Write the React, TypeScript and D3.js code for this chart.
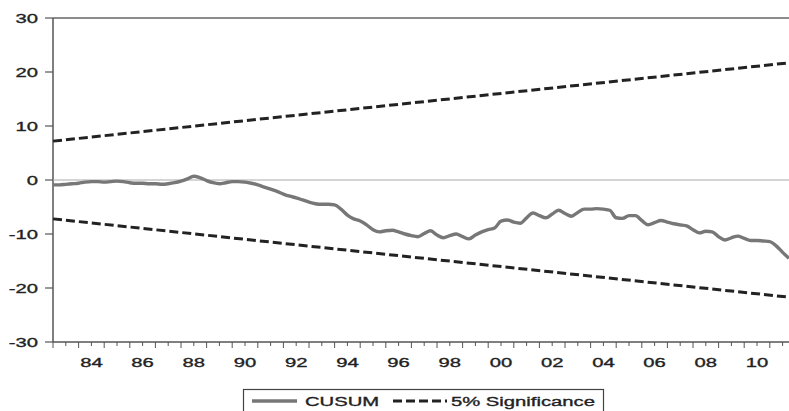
import React from "react"
import * as d3 from "d3"

// quarterly CUSUM, 1983Q1 .. 2011Q4
const startYear = 1983
const cusum = [
  -0.9, -0.9, -0.8, -0.7,
  -0.6, -0.4, -0.3, -0.3,
  -0.4, -0.3, -0.2, -0.3,
  -0.5, -0.6, -0.6, -0.7,
  -0.7, -0.8, -0.7, -0.5,
  -0.2, 0.2, 0.7, 0.4,
  -0.1, -0.5, -0.7, -0.5,
  -0.3, -0.3, -0.4, -0.6,
  -0.9, -1.3, -1.7, -2.1,
  -2.6, -3.0, -3.3, -3.7,
  -4.1, -4.4, -4.5, -4.5,
  -4.6, -5.4, -6.5, -7.2,
  -7.6, -8.3, -9.2, -9.6,
  -9.4, -9.3, -9.6, -10.0,
  -10.3, -10.5, -9.9, -9.4,
  -10.2, -10.7, -10.3, -10.0,
  -10.5, -10.9, -10.2, -9.6,
  -9.2, -8.9, -7.6, -7.4,
  -7.8, -8.0, -7.0, -6.1,
  -6.6, -7.0, -6.3, -5.6,
  -6.2, -6.7, -6.0, -5.4,
  -5.4, -5.3, -5.4, -5.6,
  -7.0, -7.1, -6.6, -6.6,
  -7.5, -8.3, -7.9, -7.5,
  -7.8, -8.1, -8.3, -8.5,
  -9.2, -9.8, -9.5, -9.6,
  -10.5, -11.1, -10.7, -10.4,
  -10.8, -11.2, -11.2, -11.3,
  -11.4, -12.2, -13.4, -14.5,
]

// 5% significance bounds (straight lines, first and last quarter)
const boundDates = [1983.0, 2011.75]
const upperBound = [7.2, 21.7]
const lowerBound = [-7.2, -21.7]

const yTicks = [30, 20, 10, 0, -10, -20, -30]
const xLabels = ["84", "86", "88", "90", "92", "94", "96", "98", "00", "02", "04", "06", "08", "10"]
const xLabelYears = [1984, 1986, 1988, 1990, 1992, 1994, 1996, 1998, 2000, 2002, 2004, 2006, 2008, 2010]

const W = 789
const H = 411
const left = 53
const right = 789
const top = 18
const bottom = 342
const font = "'Liberation Sans', Arial, sans-serif"
const sx = 1.5

const App = () => {
  const x = d3.scaleLinear().domain([1983, 2011.75]).range([left, right])
  const y = d3.scaleLinear().domain([-30, 30]).range([bottom, top])

  const cusumPts = cusum.map((v, i) => [startYear + i * 0.25, v] as [number, number])
  const line = d3.line<[number, number]>().x((d) => x(d[0])).y((d) => y(d[1]))
  const upPts = boundDates.map((d, i) => [d, upperBound[i]] as [number, number])
  const loPts = boundDates.map((d, i) => [d, lowerBound[i]] as [number, number])

  const halfYears = d3.range(1983, 2012.01, 0.5)
  const txt = { fontFamily: font, fontSize: 13.5, fill: "#222", stroke: "#222", strokeWidth: 0.35 }

  return (
    <svg width={W} height={H} style={{ position: "absolute", left: 0, top: 0, background: "#fff" }}>
      {/* frame */}
      <line x1={left} x2={W + 2} y1={top} y2={top} stroke="#666" strokeWidth={1.5} />
      <line x1={left} x2={left} y1={top} y2={bottom} stroke="#555" strokeWidth={1.5} />
      <line x1={left} x2={W + 2} y1={bottom} y2={bottom} stroke="#555" strokeWidth={1.5} />
      {/* zero line */}
      <line x1={left} x2={W + 2} y1={y(0)} y2={y(0)} stroke="#aaa" strokeWidth={1} />

      {/* y axis */}
      {yTicks.map((t) => (
        <g key={t}>
          <line x1={left - 8} x2={left} y1={y(t)} y2={y(t)} stroke="#555" strokeWidth={1.2} />
          <text transform={`translate(${left - 15},${y(t) + 5}) scale(${sx},1)`} textAnchor="end" {...txt}>
            {t}
          </text>
        </g>
      ))}

      {/* x axis ticks */}
      {halfYears.map((h) => (
        <line
          key={h}
          x1={x(h)}
          x2={x(h)}
          y1={bottom}
          y2={bottom + (h % 1 === 0 ? 6 : 4)}
          stroke="#555"
          strokeWidth={1}
        />
      ))}
      {xLabels.map((l, i) => (
        <text
          key={l}
          transform={`translate(${x(xLabelYears[i] + 0.5)},${bottom + 25}) scale(${sx},1)`}
          textAnchor="middle"
          {...txt}
        >
          {l}
        </text>
      ))}

      {/* series */}
      <path d={line(upPts) ?? ""} fill="none" stroke="#222" strokeWidth={3} strokeDasharray="9,4" />
      <path d={line(loPts) ?? ""} fill="none" stroke="#222" strokeWidth={3} strokeDasharray="9,4" />
      <path
        d={line.curve(d3.curveMonotoneX)(cusumPts) ?? ""}
        fill="none"
        stroke="#777"
        strokeWidth={3.4}
        strokeLinejoin="round"
      />

      {/* legend */}
      <rect x={243.5} y={389.5} width={360} height={30} fill="#fff" stroke="#444" strokeWidth={1.2} />
      <line x1={252} x2={297} y1={401} y2={401} stroke="#777" strokeWidth={3.4} />
      <text transform={`translate(305,406) scale(${sx},1)`} {...txt}>
        CUSUM
      </text>
      <line x1={393} x2={447} y1={401} y2={401} stroke="#222" strokeWidth={3} strokeDasharray="9,4" />
      <text transform={`translate(451,406) scale(${sx},1)`} {...txt}>
        5% Significance
      </text>
    </svg>
  )
}

export default App
